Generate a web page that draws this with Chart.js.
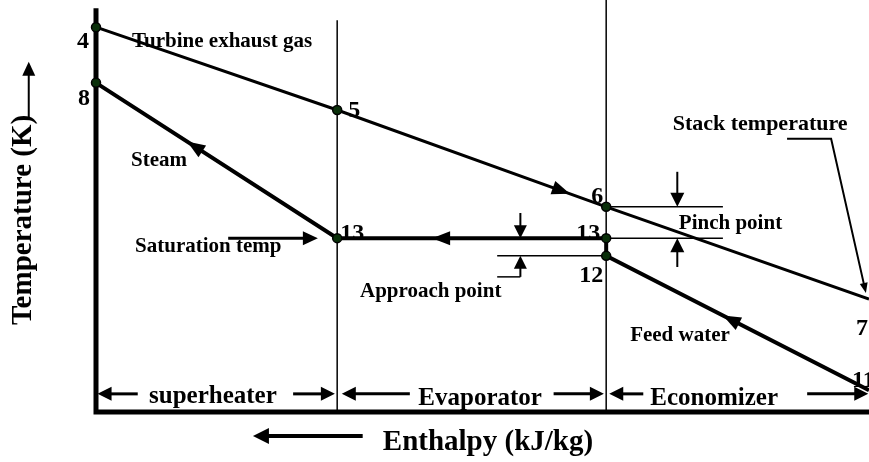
<!DOCTYPE html>
<html>
<head>
<meta charset="utf-8">
<script src="https://cdn.jsdelivr.net/npm/chart.js@4.4.0/dist/chart.umd.min.js"></script>
<style>
  body { margin: 0; background: #fff; }
  #wrap { width: 869px; height: 462px; }
</style>
</head>
<body>
<div id="wrap"><canvas id="hrsg" width="869" height="462"></canvas></div>
<script>
// state points (enthalpy and temperature in relative units, 0..100)
const gasNames = ["4", "5", "6", "7"];
const gasH = [0, 31.2, 66.0, 100];
const gasT = [93.4, 73.3, 49.8, 27.4];

const steamNames = ["8", "13", "13", "12", "11"];
const steamH = [0, 31.2, 66.0, 66.0, 100];
const steamT = [79.9, 42.2, 42.2, 37.9, 5.3];

// heat exchanger sections along the enthalpy axis
const sectionNames = ["superheater", "Evaporator", "Economizer"];
const sectionEdges = [0, 31.2, 66.0, 100];

const FONT = "'Liberation Serif', 'Times New Roman', serif";

function pts(h, t) {
  return h.map((v, i) => ({ x: v, y: t[i] }));
}

function thin(data, w) {
  return {
    data: data, showLine: true, borderColor: "#000", borderWidth: w || 1.5,
    pointRadius: 0, clip: false, tension: 0
  };
}

// label offsets (px) next to each state point
const gasLabelPos = [[-7, 21, "right"], [11, 7, "left"], [-3, -4, "right"], [-1, 36, "right"]];
const steamLabelPos = [[-6, 22, "right"], [3, 2, "left"], [-6, 2, "right"], [-3, 26, "right"], [-17, -3, "left"]];

// flow direction arrowheads: segment index, position along it, direction
const flowArrows = [
  { h: gasH, t: gasT, seg: 1, at: 0.865, dir: 1 },
  { h: steamH, t: steamT, seg: 0, at: 0.378, dir: -1 },
  { h: steamH, t: steamT, seg: 1, at: 0.353, dir: -1 },
  { h: steamH, t: steamT, seg: 3, at: 0.444, dir: -1 }
];

// annotation arrows in data units
const noteArrows = [
  { p: [[17.1, 42.2], [28.7, 42.2]], w: 3, len: 15, half: 7 },     // saturation temp
  { p: [[75.2, 58.3], [75.2, gasT[2]]], w: 2, len: 14, half: 7 },  // pinch
  { p: [[75.2, 35.2], [75.2, steamT[2]]], w: 2, len: 14, half: 7 },
  { p: [[54.9, 48.3], [54.9, steamT[1]]], w: 2, len: 13, half: 6.5 }, // approach
  { p: [[54.9, 32.8], [54.9, steamT[3]]], w: 2, len: 13, half: 6.5 },
  { p: [[89.4, 66.3], [95.1, 66.3], [99.6, 28.9]], w: 2, len: 10, half: 4 }, // stack
  { p: [[34.5, -5.8], [20.3, -5.8]], w: 4, len: 16, half: 8 },      // enthalpy
  { p: [[-8.7, 70.9], [-8.7, 85.0]], w: 2, len: 14, half: 6.5 }     // temperature
];
// section span arrows (tail, tip) pairs
const sectionArrows = [
  [5.4, 0.2], [25.5, 30.9],
  [40.6, 31.8], [59.2, 65.7],
  [70.8, 66.4], [92.0, 99.9]
];
const sectionArrowT = 4.4;

const notes = [
  { s: "Turbine exhaust gas", h: 4.66, t: 88.6, size: 21 },
  { s: "Steam", h: 4.53, t: 59.7, size: 21 },
  { s: "Saturation temp", h: 5.05, t: 38.8, size: 21 },
  { s: "Approach point", h: 34.15, t: 27.9, size: 21 },
  { s: "Pinch point", h: 75.4, t: 44.4, size: 21 },
  { s: "Stack temperature", h: 74.6, t: 68.4, size: 22 },
  { s: "Feed water", h: 69.1, t: 17.2, size: 21 },
  { s: sectionNames[0], h: 6.86, t: 2.2, size: 25 },
  { s: sectionNames[1], h: 41.7, t: 1.7, size: 25 },
  { s: sectionNames[2], h: 71.7, t: 1.7, size: 25 },
  { s: "Enthalpy (kJ/kg)", h: 37.1, t: -9.2, size: 29 },
  { s: "Temperature (K)", h: -8.4, t: 21.1, size: 29, rot: true }
];

function arrowHead(ctx, x0, y0, x1, y1, len, half) {
  const a = Math.atan2(y1 - y0, x1 - x0);
  const c = Math.cos(a), s = Math.sin(a);
  ctx.beginPath();
  ctx.moveTo(x1, y1);
  ctx.lineTo(x1 - len * c + half * s, y1 - len * s - half * c);
  ctx.lineTo(x1 - len * c - half * s, y1 - len * s + half * c);
  ctx.closePath();
  ctx.fill();
}

const overlay = {
  id: "overlay",
  afterDatasetsDraw(chart) {
    const ctx = chart.ctx;
    const xs = chart.scales.x, ys = chart.scales.y;
    const P = (h, t) => [xs.getPixelForValue(h), ys.getPixelForValue(t)];
    ctx.save();
    ctx.fillStyle = "#000";
    ctx.strokeStyle = "#000";
    ctx.lineCap = "butt";

    // flow arrowheads on the lines
    flowArrows.forEach(f => {
      const a = P(f.h[f.seg], f.t[f.seg]);
      const b = P(f.h[f.seg + 1], f.t[f.seg + 1]);
      const tx = a[0] + (b[0] - a[0]) * f.at, ty = a[1] + (b[1] - a[1]) * f.at;
      const from = f.dir > 0 ? a : b;
      arrowHead(ctx, from[0], from[1], tx, ty, 18, 7);
    });

    // arrows with shafts
    const drawArrow = (list, w, len, half) => {
      const q = list.map(p => P(p[0], p[1]));
      const n = q.length;
      const a = Math.atan2(q[n - 1][1] - q[n - 2][1], q[n - 1][0] - q[n - 2][0]);
      ctx.lineWidth = w;
      ctx.beginPath();
      ctx.moveTo(q[0][0], q[0][1]);
      for (let i = 1; i < n - 1; i++) ctx.lineTo(q[i][0], q[i][1]);
      ctx.lineTo(q[n - 1][0] - Math.cos(a) * len * 0.8, q[n - 1][1] - Math.sin(a) * len * 0.8);
      ctx.stroke();
      arrowHead(ctx, q[n - 2][0], q[n - 2][1], q[n - 1][0], q[n - 1][1], len, half);
    };
    noteArrows.forEach(n => drawArrow(n.p, n.w, n.len, n.half));
    sectionArrows.forEach(s => drawArrow([[s[0], sectionArrowT], [s[1], sectionArrowT]], 3, 14, 7));

    // state point numbers
    ctx.font = "bold 24px " + FONT;
    ctx.textBaseline = "alphabetic";
    const lab = (names, h, t, pos) => names.forEach((nm, i) => {
      const p = P(h[i], t[i]);
      ctx.textAlign = pos[i][2];
      ctx.fillText(nm, p[0] + pos[i][0], p[1] + pos[i][1]);
    });
    lab(gasNames, gasH, gasT, gasLabelPos);
    lab(steamNames, steamH, steamT, steamLabelPos);

    // text notes
    ctx.textAlign = "left";
    notes.forEach(n => {
      const p = P(n.h, n.t);
      ctx.font = "bold " + n.size + "px " + FONT;
      if (n.rot) {
        ctx.save();
        ctx.translate(p[0], p[1]);
        ctx.rotate(-Math.PI / 2);
        ctx.fillText(n.s, 0, 0);
        ctx.restore();
      } else {
        ctx.fillText(n.s, p[0], p[1]);
      }
    });
    ctx.restore();
  }
};

const dotStyle = {
  pointBackgroundColor: "#0a300a", pointBorderColor: "#000", pointBorderWidth: 1.5
};

new Chart(document.getElementById("hrsg"), {
  type: "scatter",
  plugins: [overlay],
  data: {
    datasets: [
      Object.assign({
        data: pts(gasH, gasT), showLine: true, borderColor: "#000", borderWidth: 3,
        pointRadius: [4.5, 4.5, 4.5, 0], clip: false
      }, dotStyle),
      Object.assign({
        data: pts(steamH, steamT), showLine: true, borderColor: "#000", borderWidth: 4,
        pointRadius: [4.5, 4.5, 4.5, 4.5, 0], clip: false
      }, dotStyle),
      // axes
      thin([{ x: 0, y: 98 }, { x: 0, y: 0 }, { x: 100, y: 0 }], 5),
      // section dividers
      thin([{ x: sectionEdges[1], y: 0 }, { x: sectionEdges[1], y: 95.1 }]),
      thin([{ x: sectionEdges[2], y: 0 }, { x: sectionEdges[2], y: 100 }]),
      // pinch point guide lines
      thin([{ x: sectionEdges[2], y: gasT[2] }, { x: 81.1, y: gasT[2] }]),
      thin([{ x: sectionEdges[2], y: steamT[2] }, { x: 81.1, y: steamT[2] }]),
      // approach point guide lines
      thin([{ x: 51.9, y: steamT[3] }, { x: sectionEdges[2], y: steamT[3] }]),
      thin([{ x: 51.9, y: 32.8 }, { x: 54.9, y: 32.8 }])
    ]
  },
  options: {
    responsive: false,
    animation: false,
    layout: { autoPadding: false, padding: { left: 96, right: 0, top: 0, bottom: 50 } },
    scales: {
      x: { type: "linear", min: 0, max: 100, display: false },
      y: { type: "linear", min: 0, max: 100, display: false }
    },
    plugins: { legend: { display: false }, tooltip: { enabled: false } }
  }
});
</script>
</body>
</html>
